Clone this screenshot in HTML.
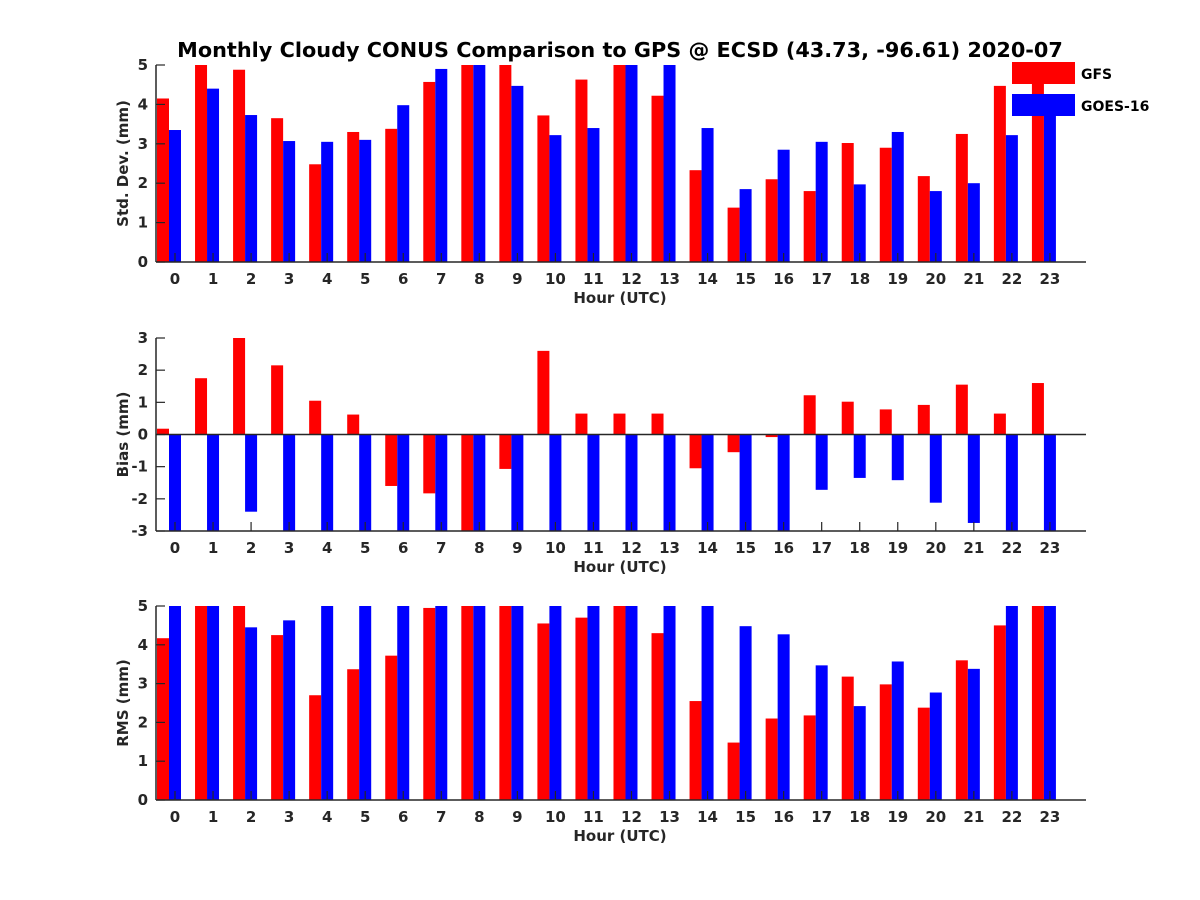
<!DOCTYPE html>
<html><head><meta charset="utf-8"><style>
body{margin:0;background:#fff}
svg{display:block;font-family:"DejaVu Sans","Liberation Sans",sans-serif;font-weight:bold}
</style></head><body>
<svg id="c" width="1200" height="900" xmlns="http://www.w3.org/2000/svg"></svg>
<script>
const hours=[0,1,2,3,4,5,6,7,8,9,10,11,12,13,14,15,16,17,18,19,20,21,22,23];
const gfsStd=[4.15,5,4.88,3.65,2.48,3.3,3.38,4.57,5,5,3.72,4.63,5,4.22,2.33,1.38,2.1,1.8,3.02,2.9,2.18,3.25,4.47,5];
const goesStd=[3.35,4.4,3.73,3.07,3.05,3.1,3.98,4.9,5,4.47,3.22,3.4,5,5,3.4,1.85,2.85,3.05,1.97,3.3,1.8,2.0,3.22,3.9];
const gfsBias=[0.18,1.75,3,2.15,1.05,0.62,-1.6,-1.83,-3,-1.07,2.6,0.65,0.65,0.65,-1.05,-0.55,-0.08,1.22,1.02,0.78,0.92,1.55,0.65,1.6];
const goesBias=[-3,-3,-2.4,-3,-3,-3,-3,-3,-3,-3,-3,-3,-3,-3,-3,-3,-3,-1.72,-1.35,-1.42,-2.12,-2.75,-3,-3];
const gfsRms=[4.17,5,5,4.25,2.7,3.37,3.72,4.95,5,5,4.55,4.7,5,4.3,2.55,1.48,2.1,2.18,3.18,2.98,2.38,3.6,4.5,5];
const goesRms=[5,5,4.45,4.63,5,5,5,5,5,5,5,5,5,5,5,4.48,4.27,3.47,2.42,3.57,2.77,3.38,5,5];
const stdTicks=[0,1,2,3,4,5];
const biasTicks=[-3,-2,-1,0,1,2,3];
const rmsTicks=[0,1,2,3,4,5];

const svg=document.getElementById('c');
const NS='http://www.w3.org/2000/svg';
function mk(tag,at,parent){const e=document.createElementNS(NS,tag);for(const k in at)e.setAttribute(k,at[k]);(parent||svg).appendChild(e);return e;}
const X0=156,X1=1086,SP=38.04;
function xs(h){return 175+SP*h;}
function panel(name,yTop,yBot,lo,hi,ticks,gfs,goes,ylabel,zeroLine){
  const g=mk('g',{});
  
  
  const ys=v=>yBot-(Math.max(lo,Math.min(hi,v))-lo)/(hi-lo)*(yBot-yTop);
  const base=zeroLine?ys(0):yBot;
  hours.forEach((h,i)=>{
    const yr=ys(gfs[i]);
    const r=mk('rect',{x:xs(h)-18,y:Math.min(yr,base),width:12,height:Math.abs(base-yr),fill:'#ff0000'},g);
    
    
    const yb=ys(goes[i]);
    const b=mk('rect',{x:xs(h)-6,y:Math.min(yb,base),width:12,height:Math.abs(base-yb),fill:'#0000ff'},g);
    
    
  });
  mk('line',{x1:X0,y1:yTop,x2:X0,y2:yBot,stroke:'#262626','stroke-width':1.5},g);
  mk('line',{x1:X0,y1:yBot,x2:X1,y2:yBot,stroke:'#262626','stroke-width':1.5},g);
  if(zeroLine)mk('line',{x1:X0,y1:base,x2:X1,y2:base,stroke:'#262626','stroke-width':1.5},g);
  ticks.forEach(t=>{
    const y=ys(t);
    mk('line',{x1:X0,y1:y,x2:X0+9,y2:y,stroke:'#262626','stroke-width':1.2},g);
    const tx=mk('text',{x:X0-8,y:y+5,'text-anchor':'end','font-size':15,fill:'#262626'},g);
    tx.textContent=t;
    
    
  });
  hours.forEach(h=>{
    mk('line',{x1:xs(h),y1:yBot,x2:xs(h),y2:yBot-9,stroke:'#262626','stroke-width':1.2},g);
    const tx=mk('text',{x:xs(h),y:yBot+22,'text-anchor':'middle','font-size':15,fill:'#262626'},g);
    tx.textContent=h;
    
    
  });
  const xl=mk('text',{x:620,y:yBot+41,'text-anchor':'middle','font-size':15,fill:'#262626'},g);
  xl.textContent='Hour (UTC)';
  
  
  const cy=(yTop+yBot)/2;
  const yl=mk('text',{x:128,y:cy,'text-anchor':'middle','font-size':15,fill:'#262626',transform:'rotate(-90 128 '+cy+')'},g);
  yl.textContent=ylabel;
  
  
}
panel('std-dev',65,262,0,5,stdTicks,gfsStd,goesStd,'Std. Dev. (mm)',false);
panel('bias',338,531,-3,3,biasTicks,gfsBias,goesBias,'Bias (mm)',true);
panel('rms',606,800,0,5,rmsTicks,gfsRms,goesRms,'RMS (mm)',false);
const t=mk('text',{x:620,y:57,'text-anchor':'middle','font-size':20.8,fill:'#000'});
t.textContent='Monthly Cloudy CONUS Comparison to GPS @ ECSD (43.73, -96.61) 2020-07';


const lg=mk('g',{});


mk('rect',{x:1012,y:62,width:63,height:22,fill:'#ff0000'},lg);
mk('rect',{x:1012,y:94,width:63,height:22,fill:'#0000ff'},lg);
const l1=mk('text',{x:1081,y:79,'font-size':14,fill:'#000'},lg);l1.textContent='GFS';


const l2=mk('text',{x:1081,y:111,'font-size':14,fill:'#000'},lg);l2.textContent='GOES-16';


</script>
</body></html>
